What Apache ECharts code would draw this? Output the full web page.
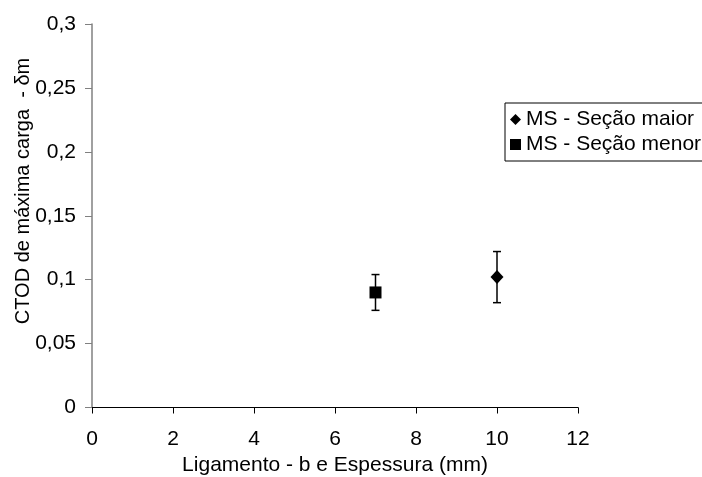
<!DOCTYPE html>
<html>
<head>
<meta charset="utf-8">
<script src="https://cdn.jsdelivr.net/npm/echarts@6/dist/echarts.min.js"></script>
<style>
  html, body { margin: 0; padding: 0; background: #fff; }
  #chart { width: 702px; height: 477px; }
</style>
</head>
<body>
<div id="chart"></div>
<script>
const chart = echarts.init(document.getElementById('chart'));

// series names
const seriesNames = ['MS - Seção maior', 'MS - Seção menor'];

// MS - Seção maior
const maiorX = [10];
const maiorY = [0.102];
const maiorLow = [0.082];
const maiorHigh = [0.122];

// MS - Seção menor
const menorX = [7];
const menorY = [0.09];
const menorLow = [0.076];
const menorHigh = [0.104];

// tick labels
const xTicks = [0, 2, 4, 6, 8, 10, 12];
const yTickLabels = ['0', '0,05', '0,1', '0,15', '0,2', '0,25', '0,3'];

const font = 'Liberation Sans, Arial, sans-serif';

const toPoints = (xs, ys) => xs.map((x, i) => [x, ys[i]]);
const toBars = (xs, lows, highs) => xs.map((x, i) => [x, lows[i], highs[i]]);

const errorBar = (params, api) => {
  const low = api.coord([api.value(0), api.value(1)]);
  const high = api.coord([api.value(0), api.value(2)]);
  const half = 4;
  const style = { stroke: '#000', lineWidth: 1.5 };
  return {
    type: 'group',
    children: [
      { type: 'line', shape: { x1: low[0], y1: low[1], x2: high[0], y2: high[1] }, style },
      { type: 'line', shape: { x1: low[0] - half, y1: low[1], x2: low[0] + half, y2: low[1] }, style },
      { type: 'line', shape: { x1: high[0] - half, y1: high[1], x2: high[0] + half, y2: high[1] }, style }
    ]
  };
};

chart.setOption({
  animation: false,
  backgroundColor: '#fff',
  grid: { left: 92, right: 124, top: 24, bottom: 69.5, outerBoundsMode: 'none' },
  legend: {
    orient: 'vertical',
    left: 505,
    top: 103,
    data: [
      { name: seriesNames[0], icon: 'diamond' },
      { name: seriesNames[1], icon: 'rect' }
    ],
    itemWidth: 11,
    itemHeight: 11,
    itemGap: 4,
    padding: [6, 60, 6, 5],
    borderColor: '#000',
    borderWidth: 1,
    textStyle: { fontFamily: font, fontSize: 21, color: '#000' }
  },
  xAxis: {
    type: 'value',
    min: xTicks[0],
    max: xTicks[xTicks.length - 1],
    interval: 2,
    name: 'Ligamento - b e Espessura (mm)',
    nameLocation: 'middle',
    nameGap: 46,
    nameTextStyle: { fontFamily: font, fontSize: 21, color: '#000' },
    axisLine: { onZero: false, lineStyle: { color: '#000', width: 1 } },
    axisTick: { inside: false, length: 6, lineStyle: { color: '#000' } },
    axisLabel: { margin: 21, fontFamily: font, fontSize: 21, color: '#000' },
    splitLine: { show: false }
  },
  yAxis: {
    type: 'value',
    min: 0,
    max: 0.3,
    interval: 0.05,
    axisLine: { show: true, lineStyle: { color: '#808080', width: 1.5 } },
    axisTick: { show: true, inside: false, length: 7, lineStyle: { color: '#808080' } },
    axisLabel: {
      margin: 16,
      fontFamily: font,
      fontSize: 21,
      color: '#000',
      formatter: (v) => yTickLabels[Math.round(v / 0.05)]
    },
    splitLine: { show: false }
  },
  graphic: [{
    type: 'text',
    x: 23,
    y: 191,
    rotation: Math.PI / 2,
    style: {
      text: 'CTOD de máxima carga  - δm',
      font: '20px ' + font,
      fill: '#000',
      align: 'center',
      verticalAlign: 'middle'
    }
  }],
  series: [
    {
      name: seriesNames[0],
      type: 'scatter',
      symbol: 'diamond',
      symbolSize: [13, 14],
      itemStyle: { color: '#000', opacity: 1 },
      data: toPoints(maiorX, maiorY),
      z: 3
    },
    {
      name: seriesNames[1],
      type: 'scatter',
      symbol: 'rect',
      symbolSize: 12,
      itemStyle: { color: '#000', opacity: 1 },
      data: toPoints(menorX, menorY),
      z: 3
    },
    {
      type: 'custom',
      renderItem: errorBar,
      data: toBars(maiorX, maiorLow, maiorHigh),
      z: 2
    },
    {
      type: 'custom',
      renderItem: errorBar,
      data: toBars(menorX, menorLow, menorHigh),
      z: 2
    }
  ]
});
</script>
</body>
</html>
